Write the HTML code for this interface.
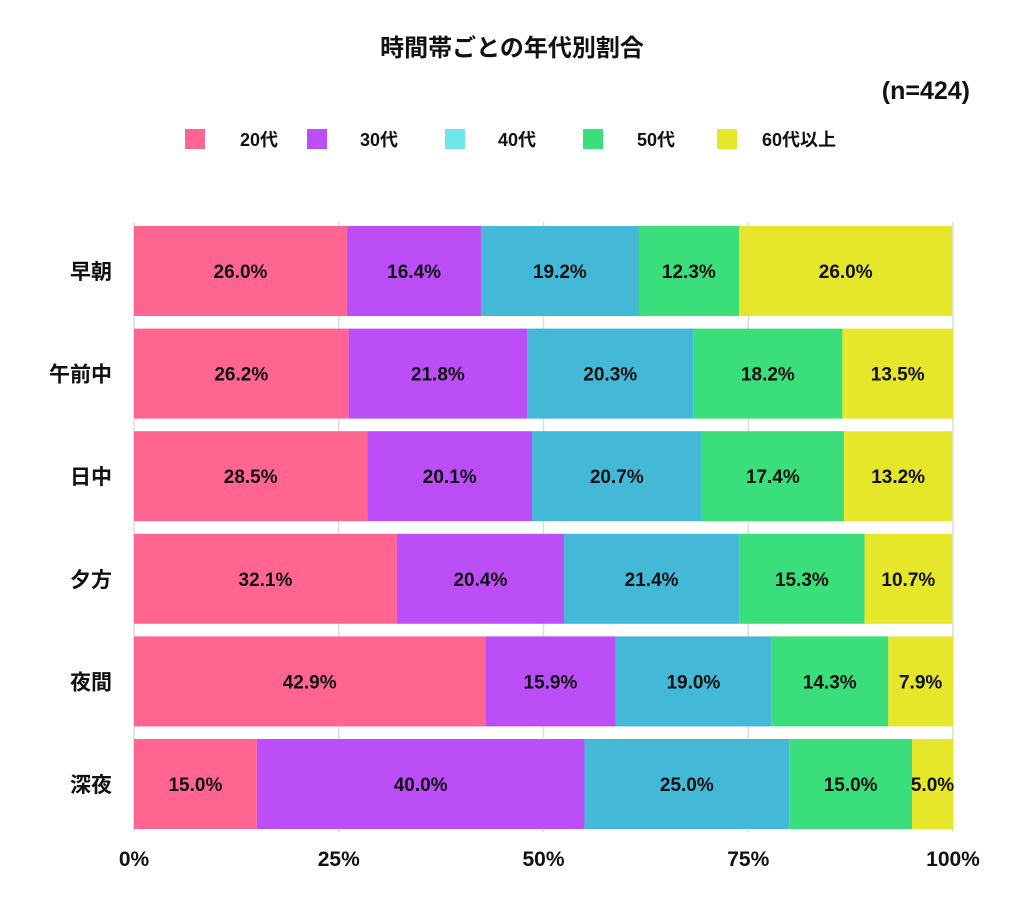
<!DOCTYPE html>
<html><head><meta charset="utf-8"><style>
body{margin:0;background:#fff;}
svg text{font-family:"Liberation Sans","Noto Sans CJK JP",sans-serif;font-weight:bold;fill:#111;}
</style></head><body>
<svg id="c" width="1024" height="900"></svg>
<script>
const categories=["早朝","午前中","日中","夕方","夜間","深夜"];
const seriesNames=["20代","30代","40代","50代","60代以上"];
const s20=[26.0,26.2,28.5,32.1,42.9,15.0];
const s30=[16.4,21.8,20.1,20.4,15.9,40.0];
const s40=[19.2,20.3,20.7,21.4,19.0,25.0];
const s50=[12.3,18.2,17.4,15.3,14.3,15.0];
const s60=[26.0,13.5,13.2,10.7,7.9,5.0];
const ticks=[0,25,50,75,100];
const series=[s20,s30,s40,s50,s60];
const colors=["#ff6590","#bb4ef7","#44b8d7","#3ade7a","#e6e62a"];
const legendColors=["#ff6590","#bb4ef7","#6ee6e9","#3ade7a","#e6e62a"];
const NS="http://www.w3.org/2000/svg";
const svg=document.getElementById('c');
function mk(t,a,p){const e=document.createElementNS(NS,t);for(const k in a)e.setAttribute(k,a[k]);(p||svg).appendChild(e);return e;}
const x0=134,x1=953;
const xs=v=>x0+(x1-x0)*v/100;
const ys=i=>226+i*102.6;
const bh=90;
let t=mk('text',{x:512,y:56,'text-anchor':'middle','font-size':24});t.textContent="時間帯ごとの年代別割合";


t=mk('text',{x:970,y:99,'text-anchor':'end','font-size':25});t.textContent="(n=424)";


const lx=[185,307,445,583,717],tx=[240,360,498,637,762];
seriesNames.forEach((n,i)=>{
 const g=mk('g',{});
 
 
 mk('rect',{x:lx[i],y:129,width:20,height:20,fill:legendColors[i]},g);
 const tt=mk('text',{x:tx[i],y:146,'font-size':18},g);tt.textContent=n;
});
ticks.forEach(v=>{
 const l=mk('line',{x1:xs(v),x2:xs(v),y1:222,y2:832,stroke:'#ddd','stroke-width':1.5});
 
 
 const tt=mk('text',{x:xs(v),y:866,'text-anchor':'middle','font-size':21});tt.textContent=v+"%";
 
 
});
categories.forEach((c,i)=>{
 const y=ys(i);
 const ct=mk('text',{x:112,y:y+bh/2+8,'text-anchor':'end','font-size':21});ct.textContent=c;
 
 
 let cum=0;
 series.forEach((s,j)=>{
  const v=s[i];
  const r=mk('rect',{x:xs(cum),y:y,width:xs(cum+v)-xs(cum),height:bh,fill:colors[j]});
  
  
  const lt=mk('text',{x:(xs(cum)+xs(cum+v))/2,y:y+bh/2+7,'text-anchor':'middle','font-size':19});
  lt.textContent=v.toFixed(1)+"%";
  
  
  cum+=v;
 });
});
</script>
</body></html>
